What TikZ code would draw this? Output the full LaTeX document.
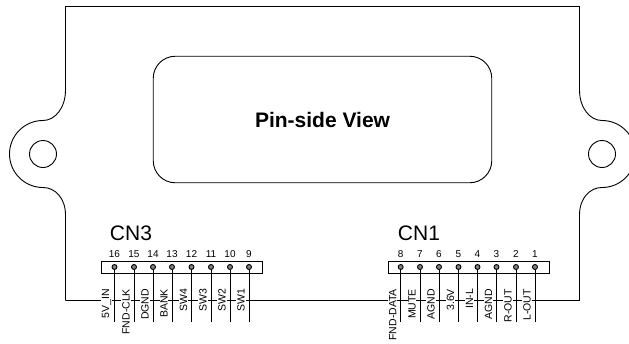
\documentclass[tikz,border=0pt]{standalone}
\usepackage{fontspec}
\setmainfont{Liberation Sans}
\newcommand{\fsz}[1]{\fontsize{#1}{#1}\selectfont}
\tikzset{
  outline/.style={line width=0.9pt,draw=black},
  hole/.style={circle,draw=black,line width=0.9pt,minimum size=27pt,inner sep=0pt},
  window/.style={draw=black,line width=0.9pt,rounded corners=22pt,minimum width=338.5pt,minimum height=126.5pt,inner sep=0pt,font=\fsz{21}\bfseries},
  connbox/.style={draw=black,line width=0.9pt,minimum width=161pt,minimum height=12pt,inner sep=0pt},
  conntitle/.style={anchor=base,inner sep=0pt,font=\fsz{21}},
  pinnum/.style={inner sep=0pt,font=\fsz{10}},
  pindot/.style={circle,draw=black,fill=black!50,line width=0.9pt,minimum size=5pt,inner sep=0pt},
  pinlabel/.style={rotate=90,anchor=east,fill=white,inner sep=0.8pt,font=\fsz{10.5}},
  pinwire/.style={line width=0.9pt,draw=black}
}
\begin{document}
\begin{tikzpicture}[x=1pt,y=-1pt]
\useasboundingbox (0,0) rectangle (629,343);
% bus and outline
\coordinate (busL) at (65.5,300.5);
\coordinate (busR) at (579.5,300.5);
\begin{scope}
\clip (0,0) rectangle (629,343);
\draw[outline] (busL) -- (65.5,215)
  .. controls (65.5,198) and (55,187.5) .. (43,187.5)
  .. controls (24.5,187.5) and (9.5,172.5) .. (9.5,154)
  .. controls (9.5,135.5) and (24.5,120.5) .. (43,120.5)
  .. controls (55,120.5) and (65.5,108) .. (65.5,90)
  -- (65.5,6.5) -- (579.5,6.5) -- (579.5,90)
  .. controls (579.5,108) and (590,120.5) .. (602,120.5)
  .. controls (620.5,120.5) and (635.5,135.5) .. (635.5,154)
  .. controls (635.5,172.5) and (620.5,187.5) .. (602,187.5)
  .. controls (590,187.5) and (579.5,198) .. (579.5,215)
  -- (busR);
\end{scope}
\draw[outline] (busL) -- (busR);
\node[hole] (holeL) at (43,154) {};
\node[hole] (holeR) at (602,154) {};
\node[window] (win) at (322.5,119.5) {Pin-side View};
% CN3
\node[connbox] (cn3) at (181.5,267) {};
\node[conntitle] (cn3t) at (131,240) {CN3};
\foreach \n/\x/\t in {16/114.5/5V\_IN,15/134/FND-CLK,14/153/DGND,13/172/BANK,12/191.5/SW4,11/211/SW3,10/230/SW2,9/249/SW1}{
  \node[pinnum] (num\n) at (\x,254) {\n};
  \node[pindot] (pin\n) at (\x,267) {};
  \coordinate (end\n) at (\x,322);
  \draw[pinwire] (pin\n) -- (end\n);
  \node[pinlabel] (lab\n) at (\x-8,288) {\t};
}
% CN1
\node[connbox] (cn1) at (468.5,267) {};
\node[conntitle] (cn1t) at (419,240) {CN1};
\foreach \n/\x/\t in {8/400.7/FND-DATA,7/420/MUTE,6/439/AGND,5/458.5/3.6V,4/477.5/IN-L,3/496.5/AGND,2/516/R-OUT,1/535/L-OUT}{
  \node[pinnum] (num\n) at (\x,254) {\n};
  \node[pindot] (pin\n) at (\x,267) {};
  \coordinate (end\n) at (\x,322);
  \draw[pinwire] (pin\n) -- (end\n);
  \node[pinlabel] (lab\n) at (\x-8,288) {\t};
}
\end{tikzpicture}
\end{document}
